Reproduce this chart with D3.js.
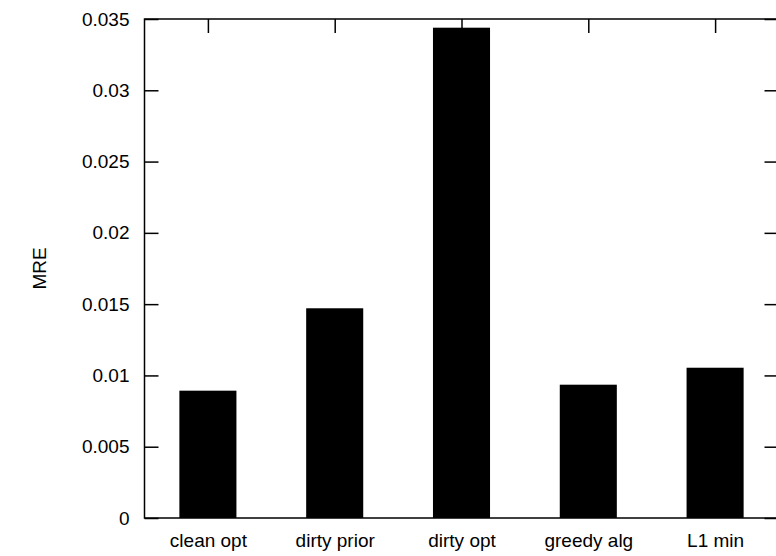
<!DOCTYPE html>
<html lang="en">
<meta charset="utf-8">
<title>MRE bars</title>
<head>
<style>
  body { margin: 0; background: #fff; }
  text { font-family: "Liberation Sans", Arial, sans-serif; font-size: 19px; fill: #000; }
</style>
</head>
<body>
  <script src="https://d3js.org/d3.v7.min.js"></script>
  <div id="chart"></div>
  <script>
    // data
    var categories = ["clean opt", "dirty prior", "dirty opt", "greedy alg", "L1 min"];
    var mre = [0.00893, 0.01471, 0.03439, 0.00935, 0.01054];
    var yTicks = [0, 0.005, 0.01, 0.015, 0.02, 0.025, 0.03, 0.035];
    var yTickLabels = ["0", "0.005", "0.01", "0.015", "0.02", "0.025", "0.03", "0.035"];

    var W = 776, H = 556;
    var margin = { top: 19, right: -2.5, bottom: 38, left: 144.5 },
      width = W - margin.left - margin.right,
      height = H - margin.top - margin.bottom;

    var svg = d3.select("#chart").append("svg")
      .attr("width", W)
      .attr("height", H)
      .style("display", "block");
    var g = svg.append("g")
      .attr("transform", "translate(" + margin.left + "," + margin.top + ")");

    // x is linear like gnuplot: categories at 0..4, range -0.5..4.5
    var x = d3.scaleLinear().domain([-0.5, categories.length - 0.5]).range([0, width]);
    var y = d3.scaleLinear().domain([0, 0.035]).range([height, 0]);
    var boxwidth = 0.45;
    var tickLen = 14;

    // bars
    g.selectAll("rect.bar")
      .data(mre)
      .enter()
      .append("rect")
      .attr("class", "bar")
      .attr("x", (d, i) => x(i - boxwidth / 2))
      .attr("width", x(boxwidth) - x(0))
      .attr("y", d => y(d))
      .attr("height", d => height - y(d))
      .attr("fill", "#000");

    // left axis (ticks inward)
    var leftAxis = g.append("g")
      .call(d3.axisLeft(y).tickValues(yTicks).tickSize(-tickLen).tickPadding(15)
        .tickFormat((d, i) => yTickLabels[i]));
    leftAxis.select(".domain").remove();
    leftAxis.selectAll("line").attr("stroke-width", 1.5);
    leftAxis.selectAll("text").attr("font-family", null);

    // right axis mirror ticks
    var rightAxis = g.append("g")
      .attr("transform", "translate(" + width + ",0)")
      .call(d3.axisRight(y).tickValues(yTicks).tickSize(-tickLen).tickFormat(""));
    rightAxis.select(".domain").remove();
    rightAxis.selectAll("line").attr("stroke-width", 1.5);

    // bottom labels
    var bottomAxis = g.append("g")
      .attr("transform", "translate(0," + height + ")")
      .call(d3.axisBottom(x).tickValues(d3.range(categories.length)).tickSize(0).tickPadding(16)
        .tickFormat(i => categories[i]));
    bottomAxis.select(".domain").remove();
    bottomAxis.selectAll("text").attr("font-family", null);

    // top mirror ticks
    var topAxis = g.append("g")
      .call(d3.axisTop(x).tickValues(d3.range(categories.length)).tickSize(-tickLen).tickFormat(""));
    topAxis.select(".domain").remove();
    topAxis.selectAll("line").attr("stroke-width", 1.5);

    // frame
    g.append("rect")
      .attr("x", 0).attr("y", 0)
      .attr("width", width).attr("height", height)
      .attr("fill", "none")
      .attr("stroke", "#000")
      .attr("stroke-width", 1.5);

    // y label
    svg.append("text")
      .attr("transform", "translate(46," + (margin.top + height / 2) + ") rotate(-90)")
      .attr("text-anchor", "middle")
      .text("MRE");
  </script>
</body>
</html>
